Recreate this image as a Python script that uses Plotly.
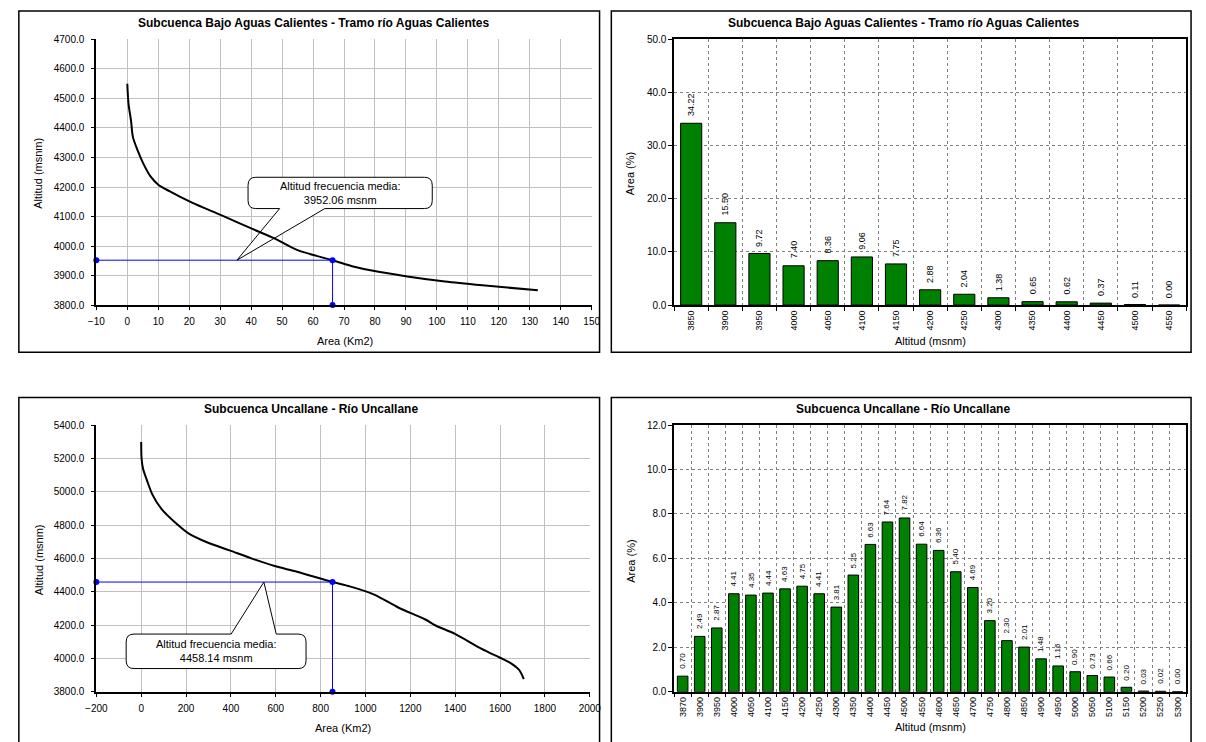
import plotly.graph_objects as go

# ---- Hypsometric curve: Subcuenca Bajo Aguas Calientes ----
ac_area = [0, 0.4, 1.2, 1.8, 3.3, 5.1, 7.5, 10, 13.6, 20.9, 30.7, 40.4, 47.7, 55,
           66.3, 73.3, 79.4, 90.4, 102.6, 114.7, 132.6]
ac_alt = [4550, 4481, 4425, 4370, 4325, 4281, 4236, 4208, 4186, 4147, 4103, 4058, 4025, 3986,
          3952, 3930, 3916, 3897, 3880, 3867, 3850]
ac_median_area = 66.3
ac_median_alt = 3952.06

# ---- Area distribution by altitude band: Bajo Aguas Calientes ----
ac_bands = ["3850", "3900", "3950", "4000", "4050", "4100", "4150", "4200", "4250",
            "4300", "4350", "4400", "4450", "4500", "4550"]
ac_pct = [34.22, 15.50, 9.72, 7.40, 8.36, 9.06, 7.75, 2.88, 2.04, 1.38, 0.65, 0.62, 0.37, 0.11, 0.00]

# ---- Hypsometric curve: Subcuenca Uncallane ----
un_area = [0, 1.7, 8, 25, 50, 92, 159, 209, 293, 394, 494, 595, 695, 853, 930, 1039,
           1148, 1265, 1315, 1399, 1516, 1600, 1642, 1684, 1706]
un_alt = [5298, 5199, 5140, 5071, 4983, 4894, 4806, 4752, 4697, 4648, 4599, 4554, 4520,
          4458, 4432, 4383, 4304, 4235, 4196, 4147, 4059, 4004, 3976, 3932, 3876]
un_median_area = 853
un_median_alt = 4458.14

# ---- Area distribution by altitude band: Uncallane ----
un_bands = ["3870", "3900", "3950", "4000", "4050", "4100", "4150", "4200", "4250", "4300",
            "4350", "4400", "4450", "4500", "4550", "4600", "4650", "4700", "4750", "4800",
            "4850", "4900", "4950", "5000", "5050", "5100", "5150", "5200", "5250", "5300"]
un_pct = [0.70, 2.49, 2.87, 4.41, 4.35, 4.44, 4.63, 4.75, 4.41, 3.81,
          5.25, 6.63, 7.64, 7.82, 6.64, 6.36, 5.40, 4.69, 3.20, 2.30,
          2.01, 1.48, 1.16, 0.90, 0.73, 0.66, 0.20, 0.03, 0.02, 0.00]

TITLE_AC = "Subcuenca Bajo Aguas Calientes - Tramo río Aguas Calientes"
TITLE_UN = "Subcuenca Uncallane - Río Uncallane"

W, H = 1206, 742
FONT = "Arial, Liberation Sans, sans-serif"
GREEN = "#008000"
BLUE = "#0000ff"


def px(x):
    return x / W


def py(y):
    return 1 - y / H


fig = go.Figure()

# curves
curve_line = dict(color="black", width=2, shape="spline", smoothing=0.8)
fig.add_trace(go.Scatter(x=ac_area, y=ac_alt, mode="lines", line=curve_line,
                         xaxis="x", yaxis="y", hoverinfo="skip"))
fig.add_trace(go.Scatter(x=un_area, y=un_alt, mode="lines", line=curve_line,
                         xaxis="x3", yaxis="y3", hoverinfo="skip"))

# median guide lines
fig.add_trace(go.Scatter(x=[-10, ac_median_area, ac_median_area],
                         y=[ac_median_alt, ac_median_alt, 3800],
                         mode="lines+markers", line=dict(color=BLUE, width=1),
                         marker=dict(color=BLUE, size=6), xaxis="x", yaxis="y", cliponaxis=False))
fig.add_trace(go.Scatter(x=[-200, un_median_area, un_median_area],
                         y=[un_median_alt, un_median_alt, 3800],
                         mode="lines+markers", line=dict(color=BLUE, width=1),
                         marker=dict(color=BLUE, size=6), xaxis="x3", yaxis="y3", cliponaxis=False))

# bars
bar_marker = dict(color=GREEN, line=dict(color="black", width=1))
fig.add_trace(go.Bar(x=ac_bands, y=ac_pct, xaxis="x2", yaxis="y2", marker=bar_marker))
fig.add_trace(go.Bar(x=un_bands, y=un_pct, xaxis="x4", yaxis="y4", marker=bar_marker))

tickfont = dict(family=FONT, size=10, color="black")

line_x = dict(showgrid=True, gridcolor="#c0c0c0", gridwidth=1, zeroline=False,
              showline=True, linecolor="black", linewidth=2, ticks="outside", ticklen=3,
              tickcolor="black", tickfont=tickfont, ticklabelstandoff=3)
line_y = dict(line_x, tickformat=".1f", ticklabelstandoff=5)

bar_x = dict(type="category", showgrid=True, gridcolor="#808080", griddash="3px,3px",
             gridwidth=1, tickson="boundaries", ticks="outside", ticklen=4, tickcolor="black",
             showline=True, linecolor="black", linewidth=1.5, mirror=True,
             tickangle=-90, tickfont=dict(family=FONT, size=9, color="black"))
bar_y = dict(showgrid=True, gridcolor="#808080", griddash="3px,3px", gridwidth=1,
             zeroline=False, showline=True, linecolor="black", linewidth=1.5, mirror=True,
             ticks="outside", ticklen=4, tickcolor="black", tickformat=".1f", tickfont=tickfont)

top_dom = [py(304), py(34)]
bot_dom = [py(697), py(426)]
left_dom = [px(87), px(592)]
right_dom = [px(676), px(1198)]

fig.update_layout(
    width=W, height=H, margin=dict(l=0, r=0, t=0, b=0),
    paper_bgcolor="white", plot_bgcolor="white", showlegend=False,
    bargap=0.38,
    xaxis=dict(line_x, domain=left_dom, range=[-10, 150], dtick=10, anchor="y"),
    yaxis=dict(line_y, domain=top_dom, range=[3800, 4700], dtick=100, anchor="x"),
    xaxis2=dict(bar_x, domain=right_dom, anchor="y2",
                categoryorder="array", categoryarray=ac_bands,
                range=[-0.5, len(ac_bands) - 0.5]),
    yaxis2=dict(bar_y, domain=top_dom, range=[0, 50], dtick=10, anchor="x2"),
    xaxis3=dict(line_x, domain=[px(87), px(590)], range=[-200, 2000], dtick=200, anchor="y3"),
    yaxis3=dict(line_y, domain=bot_dom, range=[3800, 5400], dtick=200, anchor="x3"),
    xaxis4=dict(bar_x, domain=right_dom, anchor="y4",
                categoryorder="array", categoryarray=un_bands,
                range=[-0.5, len(un_bands) - 0.5]),
    yaxis4=dict(bar_y, domain=bot_dom, range=[0, 12], dtick=2, anchor="x4"),
)


def callout_path(x0, x1, y0, y1, rx, ry, bx0, bx1, tx, ty, wedge_on_top):
    """Rounded box with a wedge pointer leaving from its top or bottom edge."""
    p = [f"M {x0 + rx},{y1}"]
    if wedge_on_top:
        p += [f"L {bx0},{y1}", f"L {tx},{ty}", f"L {bx1},{y1}"]
    p += [f"L {x1 - rx},{y1}", f"Q {x1},{y1} {x1},{y1 - ry}",
          f"L {x1},{y0 + ry}", f"Q {x1},{y0} {x1 - rx},{y0}"]
    if not wedge_on_top:
        p += [f"L {bx1},{y0}", f"L {tx},{ty}", f"L {bx0},{y0}"]
    p += [f"L {x0 + rx},{y0}", f"Q {x0},{y0} {x0},{y0 + ry}",
          f"L {x0},{y1 - ry}", f"Q {x0},{y1} {x0 + rx},{y1}", "Z"]
    return " ".join(p)


shapes = []
# panel frames
for (x0, y0, x1, y1) in [(8, 5, 600, 352), (612, 5, 1203, 352),
                         (8, 398, 600, 750), (612, 398, 1203, 750)]:
    shapes.append(dict(type="rect", xref="paper", yref="paper", x0=px(x0), x1=px(x1),
                       y0=py(y1), y1=py(y0), line=dict(color="black", width=1.5),
                       fillcolor="rgba(0,0,0,0)", layer="above"))

# callouts (above the grid, beneath the curves)
shapes.append(dict(type="path", xref="x", yref="y", layer="between",
                   path=callout_path(39, 98.5, 4127, 4233, 2.5, 27, 49.2, 63.8,
                                     35.4, ac_median_alt, False),
                   fillcolor="white", line=dict(color="black", width=1)))
shapes.append(dict(type="path", xref="x3", yref="y3", layer="between",
                   path=callout_path(-67, 735, 3939, 4146, 35, 47, 401, 602,
                                     547, un_median_alt, True),
                   fillcolor="white", line=dict(color="black", width=1)))

annotations = []


def text(x, y, s, size=11, bold=False, angle=0):
    annotations.append(dict(xref="paper", yref="paper", x=px(x), y=py(y), text=f"<b>{s}</b>" if bold else s,
                            showarrow=False, textangle=angle, xanchor="center", yanchor="middle",
                            font=dict(family=FONT, size=size, color="black")))


text(309, 17, TITLE_AC, 12, True)
text(910, 17, TITLE_AC, 12, True)
text(306, 410, TITLE_UN, 12, True)
text(909, 410, TITLE_UN, 12, True)
text(28, 170, "Altitud (msnm)", 11, angle=-90)
text(340, 340, "Area (Km2)", 11)
text(631, 170, "Area (%)", 11, angle=-90)
text(937, 340, "Altitud (msnm)", 11)
text(28, 563, "Altitud (msnm)", 11, angle=-90)
text(338, 734, "Area (Km2)", 11)
text(632, 564, "Area (%)", 11, angle=-90)
text(937, 733, "Altitud (msnm)", 11)

annotations.append(dict(xref="x", yref="y", x=68.75, y=4180, showarrow=False,
                        text=f"Altitud frecuencia media:<br>{ac_median_alt:.2f} msnm",
                        font=dict(family=FONT, size=11, color="black")))
annotations.append(dict(xref="x3", yref="y3", x=334, y=4042, showarrow=False,
                        text=f"Altitud frecuencia media:<br>{un_median_alt:.2f} msnm",
                        font=dict(family=FONT, size=11, color="black")))

# value labels above the bars, written vertically (x given as category index)
for bands, vals, xr, yr, fs in [(ac_bands, ac_pct, "x2", "y2", 9),
                                (un_bands, un_pct, "x4", "y4", 8)]:
    for i, v in enumerate(vals):
        annotations.append(dict(xref=xr, yref=yr, x=i, y=v, text=f"{v:.2f}", showarrow=False,
                                textangle=-90, xanchor="center", yanchor="bottom", yshift=5,
                                font=dict(family=FONT, size=fs, color="black")))

fig.update_layout(shapes=shapes, annotations=annotations)
fig.write_html("out.html")
